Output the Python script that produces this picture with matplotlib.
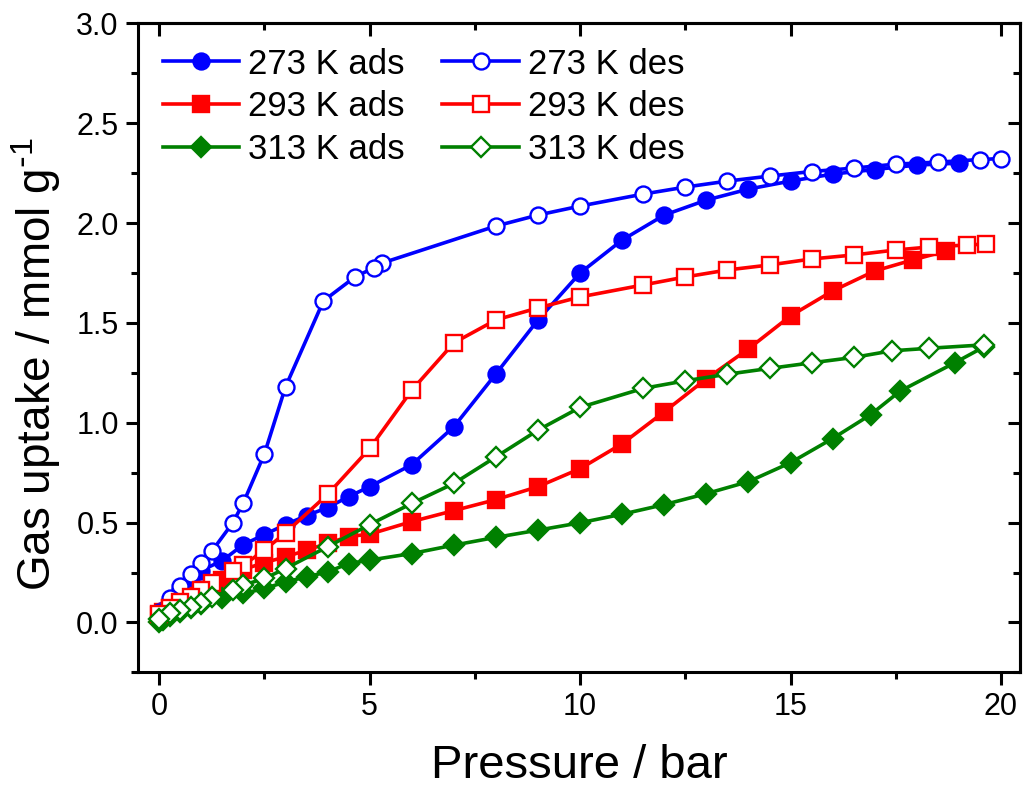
import matplotlib
matplotlib.use('Agg')
import matplotlib.pyplot as plt
from matplotlib.ticker import MultipleLocator, FormatStrFormatter

plt.rcParams['font.family'] = ['Liberation Sans', 'DejaVu Sans']
plt.rcParams['mathtext.default'] = 'regular'

# 273 K
p273_ads = [0, 0.1, 0.25, 0.5, 0.75, 1.0, 1.5, 2.0, 2.5, 3.0, 3.5, 4.0, 4.5, 5.0, 6, 7, 8, 9, 10,
            11, 12, 13, 14, 15, 16, 17, 18, 19]
q273_ads = [0.03, 0.06, 0.10, 0.16, 0.21, 0.26, 0.31, 0.39, 0.44, 0.49, 0.535, 0.575, 0.63, 0.68,
            0.79, 0.98, 1.245, 1.515, 1.75, 1.915, 2.04, 2.115, 2.17, 2.21, 2.245, 2.268, 2.29, 2.30]
p273_des = [20, 19.5, 18.5, 17.5, 16.5, 15.5, 14.5, 13.5, 12.5, 11.5, 10, 9, 8, 5.3, 5.1, 4.65,
            3.9, 3.0, 2.5, 2.0, 1.75, 1.25, 1.0, 0.75, 0.5, 0.25, 0.0]
q273_des = [2.323, 2.318, 2.305, 2.295, 2.275, 2.258, 2.235, 2.21, 2.18, 2.145, 2.085, 2.04, 1.985,
            1.80, 1.776, 1.73, 1.61, 1.18, 0.845, 0.60, 0.50, 0.357, 0.297, 0.24, 0.182, 0.12, 0.05]

# 293 K
p293_ads = [0, 0.1, 0.25, 0.5, 0.75, 1.0, 1.5, 2.0, 2.5, 3.0, 3.5, 4.0, 4.5, 5.0, 6, 7, 8, 9, 10,
            11, 12, 13, 14, 15, 16, 17, 17.9, 18.7]
q293_ads = [0.035, 0.05, 0.07, 0.10, 0.13, 0.16, 0.21, 0.265, 0.30, 0.328, 0.362, 0.396, 0.43, 0.442,
            0.505, 0.56, 0.615, 0.68, 0.77, 0.895, 1.055, 1.22, 1.37, 1.535, 1.66, 1.76, 1.815, 1.86]
p293_des = [19.65, 19.2, 18.3, 17.5, 16.5, 15.5, 14.5, 13.5, 12.5, 11.5, 10, 9, 8, 7, 6, 5, 4, 3,
            2.5, 2.0, 1.75, 1.25, 1.0, 0.75, 0.5, 0.25, 0.0]
q293_des = [1.895, 1.89, 1.88, 1.865, 1.84, 1.82, 1.79, 1.765, 1.73, 1.69, 1.63, 1.575, 1.515, 1.40,
            1.163, 0.871, 0.641, 0.449, 0.362, 0.287, 0.258, 0.198, 0.16, 0.128, 0.10, 0.07, 0.04]

# 313 K
p313_ads = [0, 0.1, 0.25, 0.5, 0.75, 1.0, 1.5, 2.0, 2.5, 3.0, 3.5, 4.0, 4.5, 5.0, 6, 7, 8, 9, 10,
            11, 12, 13, 14, 15, 16, 16.9, 17.6, 18.9, 19.6]
q313_ads = [0.0, 0.01, 0.03, 0.05, 0.07, 0.09, 0.12, 0.145, 0.17, 0.203, 0.228, 0.253, 0.295, 0.312,
            0.345, 0.387, 0.426, 0.462, 0.499, 0.542, 0.59, 0.645, 0.705, 0.80, 0.921, 1.04, 1.158,
            1.30, 1.38]
p313_des = [19.6, 18.3, 17.4, 16.5, 15.5, 14.5, 13.5, 12.5, 11.5, 10, 9, 8, 7, 6, 5, 4, 3, 2.5, 2.0,
            1.75, 1.25, 1.0, 0.75, 0.5, 0.25, 0.0]
q313_des = [1.39, 1.373, 1.36, 1.327, 1.30, 1.272, 1.243, 1.21, 1.172, 1.077, 0.963, 0.829, 0.696,
            0.596, 0.49, 0.379, 0.27, 0.22, 0.187, 0.162, 0.128, 0.095, 0.078, 0.062, 0.045, 0.015]

fig = plt.figure(figsize=(10.24, 7.91), dpi=100)
ax = fig.add_axes([0.135, 0.150, 0.861, 0.8205])

lw = 2.6
ms = 11.5
mew = 1.7
ax.plot(p273_ads, q273_ads, '-o', color='#0000FF', lw=lw, ms=ms, mew=mew, label='273 K ads')
ax.plot(p293_ads, q293_ads, '-s', color='#FF0000', lw=lw, ms=ms - 0.5, mew=mew, label='293 K ads')
ax.plot(p313_ads, q313_ads, '-D', color='#008000', lw=lw, ms=ms - 1.5, mew=mew, label='313 K ads')
ax.plot(p273_des, q273_des, '-o', color='#0000FF', mfc='white', lw=lw, ms=ms, mew=mew,
        label='273 K des')
ax.plot(p293_des, q293_des, '-s', color='#FF0000', mfc='white', lw=lw, ms=ms - 0.5, mew=mew,
        label='293 K des')
ax.plot(p313_des, q313_des, '-D', color='#008000', mfc='white', lw=lw, ms=ms - 1.5, mew=mew,
        label='313 K des')

ax.set_xlim(-0.5, 20.45)
ax.set_ylim(-0.25, 3.0)
ax.xaxis.set_major_locator(MultipleLocator(5))
ax.xaxis.set_minor_locator(MultipleLocator(2.5))
ax.yaxis.set_major_locator(MultipleLocator(0.5))
ax.yaxis.set_minor_locator(MultipleLocator(0.25))
ax.yaxis.set_major_formatter(FormatStrFormatter('%.1f'))

for s in ax.spines.values():
    s.set_linewidth(2.2)
ax.tick_params(which='both', direction='out', width=2.2, labelsize=22, pad=5)
ax.tick_params(which='major', length=9)
ax.tick_params(which='minor', length=5)

# inward ticks on top and right
top = ax.secondary_xaxis('top')
top.xaxis.set_major_locator(MultipleLocator(5))
top.xaxis.set_minor_locator(MultipleLocator(2.5))
right = ax.secondary_yaxis('right')
right.yaxis.set_major_locator(MultipleLocator(0.5))
right.yaxis.set_minor_locator(MultipleLocator(0.25))
for sec in (top, right):
    sec.tick_params(which='both', direction='in', width=2.2, labeltop=False, labelright=False)
    sec.tick_params(which='major', length=9)
    sec.tick_params(which='minor', length=5)
    for s in sec.spines.values():
        s.set_linewidth(2.2)

ax.set_xlabel('Pressure / bar', fontsize=34, labelpad=16)
ax.set_ylabel(r'Gas uptake / mmol g$^{\text{-}1}$', fontsize=33)
ax.yaxis.set_label_coords(-0.085, 0.475)

ax.legend(ncol=2, loc='upper left', frameon=False, fontsize=25, handlelength=2.2,
          handletextpad=0.25, columnspacing=1.1, labelspacing=0.28, borderaxespad=0.3)

fig.savefig('out.png', dpi=100)
